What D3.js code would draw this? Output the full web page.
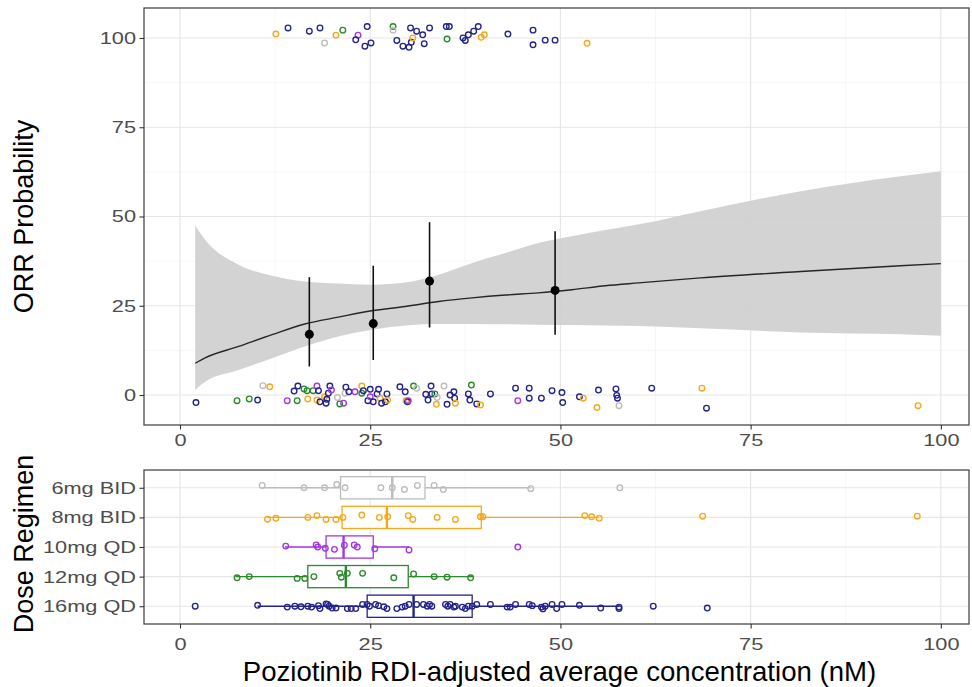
<!DOCTYPE html>
<html>
<head>
<meta charset="utf-8">
<script src="https://cdn.jsdelivr.net/npm/d3@7"></script>
<style>
  body { margin: 0; background: #fff; }
  svg { display: block; font-family: "Liberation Sans", Arial, sans-serif; }
</style>
</head>
<body>
<div id="chart"></div>
<script>
// Dose groups, top to bottom in the box panel
const doses = ["6mg BID", "8mg BID", "10mg QD", "12mg QD", "16mg QD"];
const doseColors = ["#bdbdbd", "#f5a81c", "#a336e6", "#2b8a2b", "#23238c"];

// Model fit: concentration, predicted ORR (%), 95% band
const fitConc  = [2, 3.3, 7.7, 12.1, 16.4, 20.8, 25.2, 29.6, 34, 38.4, 42.8, 47.1, 51.5, 55.9, 60.3, 68.4, 81.6, 94.7, 100];
const fitOrr   = [8.9, 10.4, 13.6, 16.9, 19.9, 21.8, 23.6, 24.8, 26.2, 27.2, 28.0, 28.6, 29.5, 30.6, 31.4, 32.8, 34.6, 36.2, 36.8];
const fitUpper = [47.5, 43.5, 36.5, 33.4, 31.8, 31.2, 30.9, 31.5, 33.7, 37.0, 39.8, 42.6, 44.5, 46.2, 47.8, 51.5, 57.1, 61.3, 62.7];
const fitLower = [1.4, 3.7, 7.0, 10.3, 13.6, 16.4, 18.3, 19.5, 19.9, 19.9, 19.8, 19.7, 19.6, 19.5, 19.3, 18.7, 17.5, 17.0, 16.6];

// Observed ORR by concentration quartile: [conc, orr, lower, upper]
const binned = [[17.0, 17.0, 8.0, 33.0], [25.4, 20.0, 9.8, 36.2], [32.8, 31.9, 18.9, 48.4], [49.3, 29.3, 16.9, 45.9]];

// Individual responses (jittered around 100 / 0): [conc, orr, dose index]
const responders = [
  [12.6,101.1,1],[14.2,102.8,4],[17.0,101.9,4],[18.4,102.8,4],[19.0,98.6,0],[20.5,100.8,1],[21.4,102.2,3],
  [23.4,100.8,2],[23.1,99.5,4],[24.6,103.2,4],[24.3,97.7,4],[25.1,98.6,4],[28.0,103.2,3],[28.0,102.2,0],
  [28.5,99.3,4],[29.3,97.7,4],[30.1,97.4,4],[30.3,102.8,4],[30.4,98.8,4],[30.6,100.0,1],[31.1,101.9,4],
  [31.9,100.9,4],[32.1,98.4,4],[32.8,102.8,4],[35.0,103.2,4],[35.4,103.2,4],[35.1,99.7,3],[37.2,100.0,4],
  [37.5,99.3,4],[37.9,100.9,4],[38.6,101.9,4],[39.2,103.2,4],[39.6,100.2,1],[40.0,100.9,1],[43.1,101.1,4],
  [46.4,102.2,4],[46.4,98.1,4],[48.0,99.4,4],[49.3,99.4,4],[53.5,98.5,1]
];
const nonResponders = [
  [2.1,-2.1,4],[7.5,-1.6,3],[9.1,-1.1,3],[10.2,-1.4,4],[10.9,2.6,0],[11.8,2.3,1],[14.1,-1.6,2],[15.4,-1.6,3],
  [15.0,1.1,4],[15.5,2.5,4],[16.3,1.7,3],[16.8,-1.1,1],[16.7,1.2,3],[17.5,1.2,3],[18.0,2.5,2],[18.2,1.2,4],
  [18.0,-1.4,1],[18.4,-1.9,4],[19.0,-0.5,1],[19.3,-1.2,4],[19.5,0.5,4],[19.7,2.5,4],[19.9,1.4,2],[19.2,-2.3,4],
  [20.7,-0.7,0],[21.0,-2.5,3],[21.5,-2.3,2],[21.8,2.2,4],[21.7,0.5,0],[22.2,0.9,4],[23.0,0.9,2],[23.9,2.5,1],
  [23.9,0.5,3],[24.1,1.2,4],[24.7,-1.6,4],[25.0,1.6,4],[25.0,-0.5,2],[25.4,-1.9,4],[25.9,0.3,4],[26.1,1.6,4],
  [26.3,-0.9,1],[26.5,-2.3,4],[27.0,-1.9,4],[27.2,0.3,4],[27.3,-1.4,1],[28.9,2.3,4],[29.6,0.9,4],[29.7,-1.6,1],
  [29.9,-1.9,4],[30.0,-1.6,2],[30.7,2.5,3],[31.1,1.9,0],[32.3,0.2,4],[32.6,-1.4,4],[33.0,2.5,4],[33.1,0.3,4],
  [33.5,0.3,3],[33.7,-2.6,1],[33.8,-0.7,0],[34.7,2.5,0],[35.1,-2.6,4],[35.5,0.0,4],[36.0,0.9,4],[36.1,-0.9,4],
  [36.2,-2.3,1],[37.9,0.3,4],[38.1,-1.4,4],[38.3,2.8,3],[39.0,-2.5,4],[39.5,-2.8,1],[40.8,0.3,4],[44.1,1.9,4],
  [44.4,-1.6,2],[45.9,1.9,4],[45.9,-0.9,4],[47.5,-0.9,4],[48.9,1.2,4],[50.2,0.7,4],[50.3,-2.1,4],[52.5,-0.5,4],
  [53.0,-0.9,1],[54.8,-3.5,1],[55.0,1.4,4],[57.3,1.7,4],[57.4,-0.1,4],[57.5,-0.9,4],[57.7,-3.0,0],[62.0,1.9,4],
  [68.6,1.9,1],[69.2,-3.7,4],[97.0,-3.0,1]
];

// Box statistics per dose: [whisker low, q1, median, q3, whisker high]
const boxStats = [
  [10.8, 21.1, 27.9, 32.2, 46.1],
  [11.5, 21.3, 27.2, 39.6, 55.0],
  [13.8, 19.2, 21.5, 25.4, 30.1],
  [7.3, 16.8, 21.8, 30.0, 38.5],
  [10.2, 24.6, 30.7, 38.4, 57.7]
];

// Box panel points: [conc, dose index, vertical jitter (fraction of row)]
const boxPoints = [
  [10.8,0,-0.08],[16.3,0,0],[19.0,0,0],[20.6,0,-0.11],[21.7,0,0],[26.4,0,0],[27.9,0,0],[29.5,0,0.06],
  [31.2,0,-0.08],[33.4,0,-0.08],[34.6,0,0.06],[46.1,0,0.03],[57.8,0,0],
  [11.5,1,0.06],[12.6,1,0.03],[16.8,1,0],[18.0,1,-0.06],[19.2,1,0.07],[20.5,1,0.07],[21.4,1,0],[23.9,1,-0.08],
  [26.2,1,0],[27.3,1,-0.02],[30.0,1,-0.06],[30.6,1,0.07],[33.8,1,0],[36.2,1,0.07],[39.5,1,-0.02],[39.8,1,-0.02],
  [53.2,1,-0.06],[54.1,1,-0.02],[55.1,1,0.03],[68.7,1,-0.04],[96.9,1,-0.04],
  [13.9,2,-0.03],[17.9,2,-0.07],[18.1,2,0],[19.1,2,0.04],[20.3,2,0.08],[21.6,2,-0.06],[22.9,2,-0.07],
  [23.3,2,0],[25.6,2,0.06],[30.1,2,0.1],[44.4,2,0],
  [7.5,3,0.04],[9.1,3,0],[15.4,3,0.06],[16.4,3,0.06],[17.6,3,0],[21.0,3,-0.11],[21.2,3,0.02],[22.0,3,-0.11],
  [24.0,3,-0.11],[28.1,3,0.04],[30.7,3,-0.09],[33.4,3,0],[35.1,3,0.02],[38.2,3,0.04],
  [2.0,4,0],[10.2,4,-0.03],[14.1,4,0.03],[15.1,4,0],[15.9,4,0.02],[16.8,4,0],[17.3,4,0.03],[18.2,4,-0.02],
  [18.4,4,0.08],[19.2,4,-0.08],[19.4,4,-0.06],[19.6,4,0],[20.0,4,0.06],[20.5,4,0.06],[22.0,4,0.08],[22.5,4,0.08],
  [23.1,4,0.08],[24.0,4,-0.06],[24.6,4,-0.06],[24.9,4,0],[25.7,4,-0.06],[26.1,4,-0.02],[26.8,4,0.02],[27.2,4,0.08],
  [28.5,4,0.08],[29.2,4,0.03],[29.6,4,0],[30.1,4,-0.06],[31.1,4,-0.06],[32.0,4,-0.06],[32.5,4,0],[32.8,4,-0.06],
  [33.1,4,0],[34.9,4,-0.06],[35.2,4,0],[35.5,4,-0.06],[36.0,4,0.03],[36.2,4,0],[37.1,4,0.03],[37.5,4,0.08],
  [37.9,4,0],[38.4,4,0],[39.0,4,-0.06],[40.8,4,-0.06],[43.0,4,0.03],[43.4,4,0.03],[44.1,4,-0.06],[45.9,4,-0.06],
  [46.3,4,-0.02],[47.5,4,0.03],[47.7,4,0.09],[48.0,4,0],[48.9,4,-0.06],[49.5,4,0.08],[50.2,4,-0.06],[52.5,4,-0.03],
  [55.3,4,0.06],[57.7,4,0.03],[57.7,4,0.08],[62.2,4,0],[69.3,4,0.06]
];

const xTicks = [0, 25, 50, 75, 100];
const yTicks = [0, 25, 50, 75, 100];

// Layout
const width = 972, height = 687;
const left = 144, right = 969;
const top1 = 8, bottom1 = 425;
const top2 = 470, bottom2 = 624;
const textStretch = 1.28;

const svg = d3.select("#chart").append("svg")
    .attr("width", width)
    .attr("height", height);

const x = d3.scaleLinear().domain([-4.73, 103.7]).range([left, right]);
const yTop = d3.scaleLinear().domain([-8.4, 108.4]).range([bottom1, top1]);
const yDose = d3.scalePoint().domain(doses).range([top2, bottom2]).padding(0.6);
const step = yDose.step();

// Grid lines
function grid(g, y0, y1, hLines, hMinor) {
    const minorX = d3.range(-12.5, 110, 25).filter(v => x(v) > left && x(v) < right);
    g.selectAll(".vminor").data(minorX).enter().append("line")
        .attr("x1", d => x(d)).attr("x2", d => x(d)).attr("y1", y0).attr("y2", y1)
        .attr("stroke", "#f2f2f2").attr("stroke-width", 0.7);
    hMinor.forEach(v => g.append("line").attr("x1", left).attr("x2", right).attr("y1", v).attr("y2", v)
        .attr("stroke", "#f2f2f2").attr("stroke-width", 0.7));
    g.selectAll(".vmajor").data(xTicks).enter().append("line")
        .attr("x1", d => x(d)).attr("x2", d => x(d)).attr("y1", y0).attr("y2", y1)
        .attr("stroke", "#e6e6e6").attr("stroke-width", 1.2);
    hLines.forEach(v => g.append("line").attr("x1", left).attr("x2", right).attr("y1", v).attr("y2", v)
        .attr("stroke", "#e6e6e6").attr("stroke-width", 1.2));
}

grid(svg.append("g"), top1, bottom1, yTicks.map(yTop), d3.range(-12.5, 110, 25).filter(v => v > -8 && v < 108).map(yTop));
grid(svg.append("g"), top2, bottom2, doses.map(yDose), []);

// ---- Top panel ----
const fit = fitConc.map((c, i) => ({c: c, orr: fitOrr[i], lo: fitLower[i], hi: fitUpper[i]}));

svg.append("path")
    .datum(fit)
    .attr("d", d3.area().x(d => x(d.c)).y0(d => yTop(d.lo)).y1(d => yTop(d.hi)).curve(d3.curveMonotoneX))
    .attr("fill", "#cfcfcf")
    .attr("fill-opacity", 0.92);

svg.append("path")
    .datum(fit)
    .attr("d", d3.line().x(d => x(d.c)).y(d => yTop(d.orr)).curve(d3.curveMonotoneX))
    .attr("fill", "none")
    .attr("stroke", "#262626")
    .attr("stroke-width", 1.4);

svg.selectAll(".errbar").data(binned).enter().append("line")
    .attr("x1", d => x(d[0])).attr("x2", d => x(d[0]))
    .attr("y1", d => yTop(d[2])).attr("y2", d => yTop(d[3]))
    .attr("stroke", "#111").attr("stroke-width", 1.6);

svg.selectAll(".mean").data(binned).enter().append("circle")
    .attr("cx", d => x(d[0])).attr("cy", d => yTop(d[1]))
    .attr("r", 4.5).attr("fill", "#000");

svg.selectAll(".obs").data(nonResponders.concat(responders)).enter().append("circle")
    .attr("cx", d => x(d[0])).attr("cy", d => yTop(d[1]))
    .attr("r", 2.8)
    .attr("fill", "none")
    .attr("stroke", d => doseColors[d[2]])
    .attr("stroke-width", 1.35);

// ---- Box panel ----
const boxH = step * 0.75;
const boxes = svg.selectAll(".box").data(boxStats).enter().append("g")
    .attr("transform", (d, i) => `translate(0,${yDose(doses[i])})`);

boxes.append("line")
    .attr("x1", d => x(d[0])).attr("x2", d => x(d[1])).attr("y1", 0).attr("y2", 0)
    .attr("stroke", (d, i) => doseColors[i]).attr("stroke-width", 1.3);
boxes.append("line")
    .attr("x1", d => x(d[3])).attr("x2", d => x(d[4])).attr("y1", 0).attr("y2", 0)
    .attr("stroke", (d, i) => doseColors[i]).attr("stroke-width", 1.3);
boxes.append("rect")
    .attr("x", d => x(d[1])).attr("width", d => x(d[3]) - x(d[1]))
    .attr("y", -boxH / 2).attr("height", boxH)
    .attr("fill", "#fff")
    .attr("stroke", (d, i) => doseColors[i]).attr("stroke-width", 1.3);
boxes.append("line")
    .attr("x1", d => x(d[2])).attr("x2", d => x(d[2])).attr("y1", -boxH / 2).attr("y2", boxH / 2)
    .attr("stroke", (d, i) => doseColors[i]).attr("stroke-width", 2.4);

svg.selectAll(".bpt").data(boxPoints).enter().append("circle")
    .attr("cx", d => x(d[0]))
    .attr("cy", d => yDose(doses[d[1]]) + d[2] * step)
    .attr("r", 2.8)
    .attr("fill", "none")
    .attr("stroke", d => doseColors[d[1]])
    .attr("stroke-width", 1.35);

// Panel borders
[[top1, bottom1], [top2, bottom2]].forEach(([a, b]) => {
    svg.append("rect")
        .attr("x", left).attr("y", a).attr("width", right - left).attr("height", b - a)
        .attr("fill", "none").attr("stroke", "#4a4a4a").attr("stroke-width", 1.3);
});

// Axes
function styleAxis(g, isLeft) {
    g.select(".domain").remove();
    g.selectAll(".tick line").attr("stroke", "#333").attr("stroke-width", 1.1);
    g.selectAll(".tick text")
        .attr("fill", "#4d4d4d")
        .style("font-size", "17px")
        .attr("transform", `scale(${textStretch},1)`);
    if (isLeft) g.selectAll(".tick text").attr("x", -8 / textStretch);
}

svg.append("g").attr("transform", `translate(0,${bottom1})`)
    .call(d3.axisBottom(x).tickValues(xTicks).tickSize(4.5).tickPadding(4))
    .call(g => styleAxis(g, false));
svg.append("g").attr("transform", `translate(0,${bottom2})`)
    .call(d3.axisBottom(x).tickValues(xTicks).tickSize(4.5).tickPadding(9))
    .call(g => styleAxis(g, false));
svg.append("g").attr("transform", `translate(${left},0)`)
    .call(d3.axisLeft(yTop).tickValues(yTicks).tickSize(4.5))
    .call(g => styleAxis(g, true));
svg.append("g").attr("transform", `translate(${left},0)`)
    .call(d3.axisLeft(yDose).tickSize(4.5))
    .call(g => styleAxis(g, true));

// Axis titles
svg.append("text")
    .attr("transform", `translate(33,${(top1 + bottom1) / 2}) rotate(-90)`)
    .attr("text-anchor", "middle")
    .style("font-size", "27px")
    .attr("fill", "#000")
    .text("ORR Probability");
svg.append("text")
    .attr("transform", `translate(33,${(top2 + bottom2) / 2 - 3}) rotate(-90)`)
    .attr("text-anchor", "middle")
    .style("font-size", "27px")
    .attr("fill", "#000")
    .text("Dose Regimen");
svg.append("text")
    .attr("x", (left + right) / 2 + 3)
    .attr("y", 681)
    .attr("text-anchor", "middle")
    .style("font-size", "27.6px")
    .attr("fill", "#000")
    .text("Poziotinib RDI-adjusted average concentration (nM)");
</script>
</body>
</html>
